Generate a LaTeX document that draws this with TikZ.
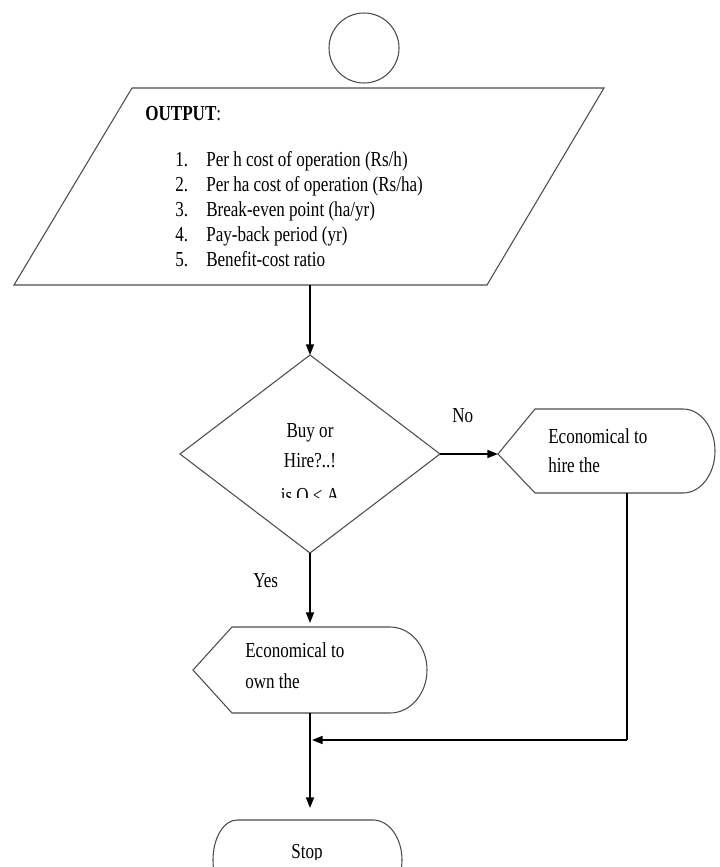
\documentclass[tikz,border=0pt]{standalone}
\usepackage{fontspec}
\setmainfont{Liberation Serif}[FakeStretch=0.8]
\usetikzlibrary{arrows.meta}
\begin{document}
\begin{tikzpicture}[x=0.75pt,y=-0.75pt,
  shapeline/.style={draw=black!70,line width=0.8pt},
  conn/.style={draw=black,line width=1.2pt,-{Triangle[length=8pt,width=6pt]}},
  plain/.style={draw=black,line width=1.2pt},
  txt/.style={anchor=base west,inner sep=0pt,font=\fontsize{16}{19}\selectfont},
]
\useasboundingbox (0,0) rectangle (719,867);
\clip (0,0) rectangle (719,867);

% start circle
\node[circle,shapeline,minimum size=52.5pt,inner sep=0pt] (start) at (364,48) {};

% output parallelogram
\coordinate (pTL) at (132,88);
\coordinate (pTR) at (604,88);
\coordinate (pBR) at (487,285);
\coordinate (pBL) at (14,285);
\draw[shapeline] (pTL) -- (pTR) -- (pBR) -- (pBL) -- cycle;
\node[txt] (outhead) at (145,120) {\textbf{OUTPUT}:};
\foreach \n/\t [count=\i] in {1/{Per h cost of operation (Rs/h)},2/{Per ha cost of operation (Rs/ha)},3/{Break-even point (ha/yr)},4/{Pay-back period (yr)},5/{Benefit-cost ratio}}{
  \node[txt] (num\i) at (175,{141+25*\i}) {\n.};
  \node[txt] (item\i) at (206,{141+25*\i}) {\t};
}
\coordinate (pout) at (310,285);

% decision diamond
\coordinate (dT) at (310,355);
\coordinate (dR) at (440,454);
\coordinate (dB) at (310,553);
\coordinate (dL) at (180,454);
\draw[shapeline] (dT) -- (dR) -- (dB) -- (dL) -- cycle;
\node[txt,anchor=base] (q1) at (310,437) {Buy or};
\node[txt,anchor=base] (q2) at (310,467) {Hire?..!};
\begin{scope}
  \clip (180,300) rectangle (440,497);
  \node[txt,anchor=base] (q3) at (310,502) {is O < A};
\end{scope}

\draw[conn] (pout) -- (dT);

% hire box
\coordinate (hL) at (498,454);
\coordinate (hTL) at (535,409);
\coordinate (hBL) at (535,493);
\draw[shapeline] (hL) -- (hTL) -- (683,409) arc[start angle=-90,end angle=90,x radius=32,y radius=42] -- (hBL) -- cycle;
\node[txt] (h1) at (548,443) {Economical to};
\node[txt] (h2) at (548,472) {hire the};
\coordinate (hbot) at (627,493);

\draw[conn] (dR) -- (hL);
\node[txt] (no) at (452,422) {No};

% own box
\coordinate (oL) at (193,670);
\coordinate (ytip) at (310,623);
\draw[shapeline] (oL) -- (232,627) -- (390,627) arc[start angle=-90,end angle=90,x radius=37,y radius=43] -- (232,713) -- cycle;
\node[txt] (o1) at (245,657) {Economical to};
\node[txt] (o2) at (245,688) {own the};
\coordinate (obot) at (310,713);

\draw[conn] (dB) -- (ytip);
\node[txt] (yes) at (253,587) {Yes};

% merge and stop
\coordinate (corner) at (627,740);
\coordinate (merge) at (312,740);
\coordinate (stip) at (310,808);
\draw[plain] (hbot) -- (corner);
\draw[conn] (corner) -- (merge);
\draw[conn] (obot) -- (stip);

\draw[shapeline] (237,820) -- (373,820) arc[start angle=-90,end angle=90,x radius=29,y radius=40] -- (237,900) arc[start angle=90,end angle=270,x radius=24,y radius=40] -- cycle;
\begin{scope}
  \clip (213,820) rectangle (402,859);
  \node[txt,anchor=base] (stop) at (307,858) {Stop};
\end{scope}
\end{tikzpicture}
\end{document}
